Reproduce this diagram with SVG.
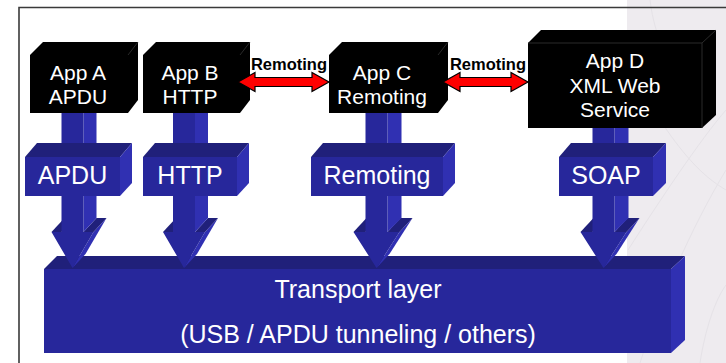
<svg xmlns="http://www.w3.org/2000/svg" width="726" height="363" viewBox="0 0 726 363">
  <style>
    .front { fill: #27279b; }
    .top { fill: #20207a; }
    .side { fill: #3030b2; }
    .app { fill: #000; }
    .edge { fill: none; stroke: #2a2a2a; stroke-width: 1; }
    .app-text { font-family: "Liberation Sans", Arial, sans-serif; font-size: 21px; fill: #fff; text-anchor: middle; }
    .proto-text { font-family: "Liberation Sans", Arial, sans-serif; font-size: 25px; fill: #fff; text-anchor: middle; }
    .link-label { font-family: "Liberation Sans", Arial, sans-serif; font-size: 16.5px; font-weight: bold; fill: #000; text-anchor: middle; }
    .link { fill: #ff0000; stroke: #000; stroke-width: 1.2; stroke-linejoin: miter; }
    .vein { fill: none; stroke: #e5e2e7; stroke-width: 1; }
  </style>

  <!-- page background -->
  <rect x="0" y="0" width="726" height="363" fill="#ffffff"/>
  <rect x="627" y="0" width="99" height="363" fill="#eeebef"/>
  <g id="leaf-texture">
    <path class="vein" d="M640 363 C660 300 690 230 726 170"/>
    <path class="vein" d="M628 250 C660 200 700 140 726 110"/>
    <path class="vein" d="M650 0 C655 40 670 70 700 95"/>
    <path class="vein" d="M660 120 C680 150 700 175 726 190"/>
    <path class="vein" d="M700 363 C705 330 715 300 726 285"/>
    <path class="vein" d="M630 60 C650 70 670 90 690 120"/>
  </g>

  <!-- frame -->
  <path d="M19 363 V7.5 H726" fill="none" stroke="#3a3a3a" stroke-width="1.6"/>

  <!-- transport layer -->
  <g id="transport">
    <polygon class="top" points="44,269 57,256 685,256 671,269"/>
    <polygon class="side" points="671,269 685,256 685,340 671,353"/>
    <rect class="front" x="44" y="269" width="627" height="84"/>
    <text class="proto-text" x="358" y="298">Transport layer</text>
    <text class="proto-text" x="358" y="343">(USB / APDU tunneling / others)</text>
  </g>

  <!-- applications -->
  <g id="app-a">
    <polygon class="app" points="30,55 43,42 138,42 138,100 128,113 30,113"/>
    <path class="edge" d="M128 55 L138 42"/>
    <text class="app-text" x="78" y="80">App A</text>
    <text class="app-text" x="78" y="104">APDU</text>
  </g>
  <g id="app-b">
    <polygon class="app" points="143,55 156,42 250,42 250,100 240,113 143,113"/>
    <path class="edge" d="M240 55 L250 42"/>
    <text class="app-text" x="190" y="80">App B</text>
    <text class="app-text" x="190" y="104">HTTP</text>
  </g>
  <g id="app-c">
    <polygon class="app" points="329,55 342,42 448,42 448,100 438,113 329,113"/>
    <path class="edge" d="M438 55 L448 42"/>
    <text class="app-text" x="382" y="80">App C</text>
    <text class="app-text" x="382" y="104">Remoting</text>
  </g>
  <g id="app-d">
    <polygon class="app" points="528,43 541,30 716,30 716,115 702,128 528,128"/>
    <path class="edge" d="M528 43 H702 V128 M702 43 L716 30"/>
    <text class="app-text" x="615" y="68">App D</text>
    <text class="app-text" x="615" y="92.5">XML Web</text>
    <text class="app-text" x="615" y="117">Service</text>
  </g>

  <g id="connectors">
    <!-- protocol flow arrows down to the transport layer -->
    <g id="flow-apdu" transform="translate(72.5 0)">
      <polygon class="side" points="21,232 34,218 13,254 0,268"/>
      <polygon class="top" points="-21,232 -11,232 2,218 -8,218"/>
      <polygon class="top" points="11,232 21,232 34,218 24,218"/>
      <polygon class="side" points="11,113 24,113 24,218 11,232"/>
      <polygon class="front" points="-11,113 11,113 11,232 21,232 0,268 -21,232 -11,232"/>
    </g>
    <g id="flow-http" transform="translate(184 0)">
      <polygon class="side" points="21,232 34,218 13,254 0,268"/>
      <polygon class="top" points="-21,232 -11,232 2,218 -8,218"/>
      <polygon class="top" points="11,232 21,232 34,218 24,218"/>
      <polygon class="side" points="11,113 24,113 24,218 11,232"/>
      <polygon class="front" points="-11,113 11,113 11,232 21,232 0,268 -21,232 -11,232"/>
    </g>
    <g id="flow-remoting" transform="translate(376.5 0)">
      <polygon class="side" points="23,232 36,218 13,254 0,268"/>
      <polygon class="top" points="-23,232 -11,232 2,218 -10,218"/>
      <polygon class="top" points="11,232 23,232 36,218 24,218"/>
      <polygon class="side" points="11,113 25,113 25,218 11,232"/>
      <polygon class="front" points="-11,113 11,113 11,232 23,232 0,268 -23,232 -11,232"/>
    </g>
    <g id="flow-soap" transform="translate(603.5 0)">
      <polygon class="side" points="23,232 36,218 13,254 0,268"/>
      <polygon class="top" points="-23,232 -11,232 2,218 -10,218"/>
      <polygon class="top" points="11,232 23,232 36,218 24,218"/>
      <polygon class="side" points="11,128 25,128 25,218 11,232"/>
      <polygon class="front" points="-11,128 11,128 11,232 23,232 0,268 -23,232 -11,232"/>
    </g>

    <!-- remoting links between applications -->
    <g id="link-b-c">
      <polygon class="link" points="238,82 255,72.5 255,77.5 312,77.5 312,72.5 329,82 312,91.5 312,86.5 255,86.5 255,91.5"/>
      <text class="link-label" x="289" y="70">Remoting</text>
    </g>
    <g id="link-c-d">
      <polygon class="link" points="443,82 460,72.5 460,77.5 511,77.5 511,72.5 528,82 511,91.5 511,86.5 460,86.5 460,91.5"/>
      <text class="link-label" x="488" y="70">Remoting</text>
    </g>
  </g>

  <!-- protocol layers -->
  <g id="proto-apdu">
    <polygon class="top" points="25,157 37,143 132,143 120,157"/>
    <polygon class="side" points="120,157 132,143 132,183 120,196"/>
    <rect class="front" x="25" y="157" width="95" height="39"/>
    <text class="proto-text" x="72.5" y="184">APDU</text>
  </g>
  <g id="proto-http">
    <polygon class="top" points="143,157 155,143 249,143 237,157"/>
    <polygon class="side" points="237,157 249,143 249,183 237,196"/>
    <rect class="front" x="143" y="157" width="94" height="39"/>
    <text class="proto-text" x="190" y="184">HTTP</text>
  </g>
  <g id="proto-remoting">
    <polygon class="top" points="311,157 323,143 455,143 443,157"/>
    <polygon class="side" points="443,157 455,143 455,183 443,196"/>
    <rect class="front" x="311" y="157" width="132" height="39"/>
    <text class="proto-text" x="377" y="184">Remoting</text>
  </g>
  <g id="proto-soap">
    <polygon class="top" points="559,157 571,143 666,143 653,157"/>
    <polygon class="side" points="653,157 666,143 666,183 653,196"/>
    <rect class="front" x="559" y="157" width="94" height="39"/>
    <text class="proto-text" x="606" y="184">SOAP</text>
  </g>
</svg>
